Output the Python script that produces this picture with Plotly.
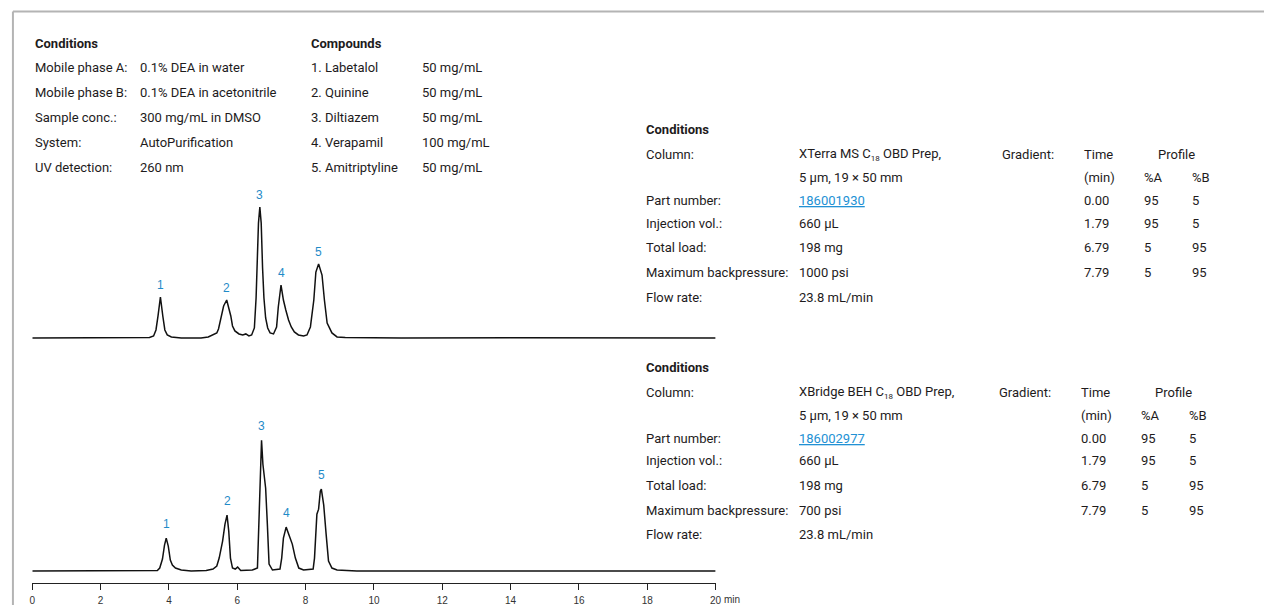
import plotly.graph_objects as go

# ---------------- data ----------------
# Chromatogram 1 (XTerra MS C18) – time (min) and detector response (relative units)
t_top = [0.00, 1.50, 3.00, 3.43, 3.55, 3.62, 3.68, 3.75, 3.82, 3.88, 3.95, 4.07, 4.36,
         4.94, 5.15, 5.29, 5.40, 5.45, 5.52, 5.60, 5.69, 5.76, 5.81, 5.86, 5.93, 6.05,
         6.16, 6.25, 6.34, 6.42, 6.50, 6.55, 6.58, 6.62, 6.66, 6.70, 6.74, 6.78, 6.83,
         6.89, 6.96, 7.06, 7.15, 7.20, 7.28, 7.35, 7.42, 7.50, 7.58, 7.67, 7.79, 7.94,
         8.04, 8.14, 8.24, 8.30, 8.38, 8.48, 8.55, 8.63, 8.77, 8.92, 9.16, 10.80, 14.00, 20.00]
s_top = [0.0, 0.2, 0.0, 0.5, 2, 8, 22, 41, 22, 8, 3, 1, 0,
         0, 1, 3, 5, 9, 20, 32, 38, 30, 22, 12, 7, 4,
         3, 4, 2, 3, 10, 40, 75, 115, 131, 115, 70, 40, 20,
         10, 5, 4, 11, 31, 53, 38, 28, 18, 11, 6, 3, 2,
         3, 11, 38, 66, 74, 63, 38, 15, 5, 1, 0.5, 0, 0.3, 0]

# Chromatogram 2 (XBridge BEH C18)
t_bot = [0.00, 2.00, 3.50, 3.66, 3.73, 3.81, 3.87, 3.92, 3.98, 4.04, 4.10, 4.19, 4.36,
         4.65, 5.09, 5.29, 5.40, 5.47, 5.57, 5.64, 5.70, 5.75, 5.80, 5.86, 5.94, 6.01,
         6.10, 6.44, 6.59, 6.64, 6.69, 6.71, 6.75, 6.83, 6.88, 6.93, 7.03, 7.25, 7.30,
         7.35, 7.43, 7.51, 7.61, 7.70, 7.80, 7.94, 8.22, 8.26, 8.31, 8.33, 8.38, 8.43,
         8.46, 8.53, 8.60, 8.67, 8.77, 8.92, 9.50, 20.00]
s_bot = [0.0, 0.0, 0.0, 0.5, 3, 12, 26, 33, 25, 11, 6, 3, 1,
         0, 0.5, 2, 5, 13, 30, 47, 56, 40, 13, 3, 2, 4,
         0.5, 1, 3, 63, 120, 131, 107, 83, 47, 7, 1, 2, 13,
         33, 44, 37, 27, 13, 3, 1, 2, 13, 47, 57, 62, 80,
         82, 66, 37, 10, 3, 1, 0, 0]

peak_labels = ["1", "2", "3", "4", "5"]
peak_times_top = [3.75, 5.69, 6.66, 7.28, 8.38]
peak_times_bot = [3.92, 5.70, 6.71, 7.43, 8.46]

x_ticks = [0, 2, 4, 6, 8, 10, 12, 14, 16, 18, 20]

cond_labels = ["Mobile phase A:", "Mobile phase B:", "Sample conc.:", "System:", "UV detection:"]
cond_values = ["0.1% DEA in water", "0.1% DEA in acetonitrile", "300 mg/mL in DMSO",
               "AutoPurification", "260 nm"]
compounds = ["1. Labetalol", "2. Quinine", "3. Diltiazem", "4. Verapamil", "5. Amitriptyline"]
compound_conc = ["50 mg/mL", "50 mg/mL", "50 mg/mL", "100 mg/mL", "50 mg/mL"]

SUB18 = "<sub><span style='font-size:8px'>18</span></sub>"
col_labels = ["Column:", "", "Part number:", "Injection vol.:", "Total load:",
              "Maximum backpressure:", "Flow rate:"]
col_values_top = ["XTerra MS C" + SUB18 + " OBD Prep,", "5 µm, 19 × 50 mm", "186001930",
                  "660 µL", "198 mg", "1000 psi", "23.8 mL/min"]
col_values_bot = ["XBridge BEH C" + SUB18 + " OBD Prep,", "5 µm, 19 × 50 mm", "186002977",
                  "660 µL", "198 mg", "700 psi", "23.8 mL/min"]
grad_time = ["0.00", "1.79", "6.79", "7.79"]
grad_A = [95, 95, 5, 5]
grad_B = [5, 5, 95, 95]

# ---------------- figure ----------------
W, H = 1270, 606
TXT = "Roboto, 'Open Sans', sans-serif"
TXT_COLOR = "#1e1b1c"
BLUE = "#1f8bc8"
TICKFONT = dict(family="Liberation Sans, Arial", size=10, color="#333333")


def ypx(p):
    return 1 - p / H


def xpx(p):
    return p / W


fig = go.Figure()
fig.add_trace(go.Scatter(x=t_top, y=s_top, mode="lines", xaxis="x", yaxis="y",
                         line=dict(color="#111111", width=1.5), hoverinfo="skip"))
fig.add_trace(go.Scatter(x=t_bot, y=s_bot, mode="lines", xaxis="x", yaxis="y2",
                         line=dict(color="#111111", width=1.5), hoverinfo="skip"))

ann = []


def text(x, y, s, size=13, color=TXT_COLOR, xanchor="left", bold=False):
    if bold:
        s = "<b>" + s + "</b>"
    ann.append(dict(x=xpx(x), y=ypx(y), xref="paper", yref="paper", text=s,
                    showarrow=False, xanchor=xanchor, yanchor="middle",
                    font=dict(family=TXT, size=size, color=color)))


# peak labels
for lab, tp in zip(peak_labels, peak_times_top):
    ann.append(dict(x=tp, y=s_top[t_top.index(tp)], xref="x", yref="y", text=lab,
                    showarrow=False, yanchor="bottom", yshift=3,
                    font=dict(family="Liberation Sans, Arial", size=12, color=BLUE)))
for lab, tp in zip(peak_labels, peak_times_bot):
    ann.append(dict(x=tp, y=s_bot[t_bot.index(tp)], xref="x", yref="y2", text=lab,
                    showarrow=False, yanchor="bottom", yshift=5,
                    font=dict(family="Liberation Sans, Arial", size=12, color=BLUE)))

# "min" unit next to the last tick label
ann.append(dict(x=20, y=ypx(600.5), xref="x", yref="paper", text="min", showarrow=False,
                xanchor="left", yanchor="middle", xshift=6, font=TICKFONT))

# left conditions block
text(30, 44, "Conditions", bold=True)
text(308, 44, "Compounds", bold=True)
for i in range(5):
    y = 68 + 25 * i
    text(30, y, cond_labels[i])
    text(136, y, cond_values[i])
    text(308, y, compounds[i])
    text(420, y, compound_conc[i])


def right_block(off, values, dx):
    rows = [155, 178, 201, 223.5, 248, 273, 297.5]
    text(646, 130 + off, "Conditions", bold=True)
    for i, (lab, val) in enumerate(zip(col_labels, values)):
        y = rows[i] + off
        if lab:
            text(646, y, lab)
        if lab == "Part number:":
            val = "<span style='color:#2291d4'><u>" + val + "</u></span>"
        text(800, y, val)
    text(1004 + dx, 155 + off, "Gradient:")
    text(1086.5 + dx, 155 + off, "Time")
    text(1182 + dx, 155 + off, "Profile", xanchor="center")
    text(1086.5 + dx, 178 + off, "(min)")
    text(1147 + dx, 178 + off, "%A")
    text(1195 + dx, 178 + off, "%B")
    for i in range(4):
        y = rows[i + 2] + off
        text(1086.5 + dx, y, grad_time[i])
        text(1147 + dx, y, str(grad_A[i]))
        text(1195 + dx, y, str(grad_B[i]))


right_block(0, col_values_top, 0)
right_block(238, col_values_bot, -3)

shapes = [
    dict(type="line", xref="paper", yref="paper", x0=xpx(10), x1=1, y0=ypx(11.5), y1=ypx(11.5),
         line=dict(color="#b4b4b4", width=2)),
    dict(type="line", xref="paper", yref="paper", x0=xpx(10), x1=xpx(10), y0=ypx(11.5), y1=0,
         line=dict(color="#b4b4b4", width=2)),
]

fig.update_layout(
    width=W, height=H, margin=dict(l=0, r=0, t=0, b=0),
    paper_bgcolor="white", plot_bgcolor="rgba(0,0,0,0)", showlegend=False,
    xaxis=dict(domain=[xpx(29.5), xpx(717.7)], range=[0, 20], anchor="free",
               position=ypx(584), showline=True, linecolor="#222222", linewidth=1,
               ticks="outside", ticklen=6, tickwidth=1, tickcolor="#222222",
               tickvals=x_ticks, ticktext=[str(v) for v in x_ticks],
               ticklabelstandoff=2, tickfont=TICKFONT,
               showgrid=False, zeroline=False, fixedrange=True),
    yaxis=dict(domain=[ypx(345), ypx(195)], range=[-6.5, 143.5], visible=False,
               anchor="x", fixedrange=True),
    yaxis2=dict(domain=[ypx(578), ypx(428)], range=[-6, 144], visible=False,
                anchor="x", fixedrange=True),
    annotations=ann, shapes=shapes,
)

fig.write_html("out.html", config={"displayModeBar": False},
               post_script="document.body.style.margin='0px';")
